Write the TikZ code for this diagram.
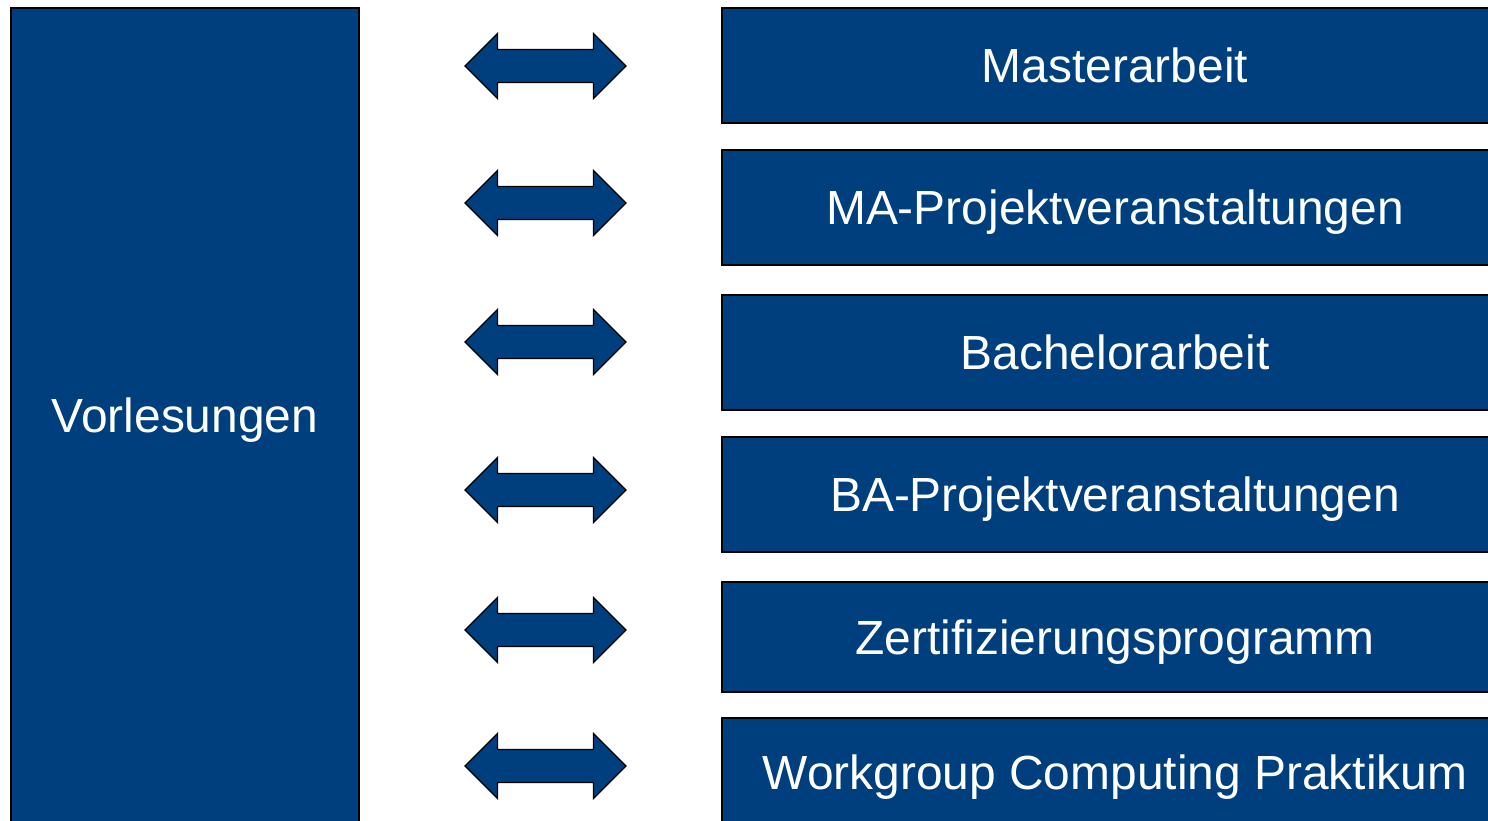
\documentclass[tikz,border=0pt]{standalone}
\usepackage{fontspec}
\setmainfont{Liberation Sans}
\definecolor{boxblue}{RGB}{0,63,125}
\begin{document}
\begin{tikzpicture}[x=1pt,y=-1pt,
  blk/.style={draw=black,line width=1.6pt,fill=boxblue,text=white,font=\fontsize{47.9}{57}\selectfont,inner sep=0pt,text height=34.6pt,text depth=0pt},
  dbl/.style={draw=black,line width=1.3pt,fill=boxblue,line join=miter}]
\useasboundingbox (0,0) rectangle (1488,820);
\clip (0,0) rectangle (1488,820);
\fill[white] (0,0) rectangle (1488,820);
\node[blk,minimum width=348pt,minimum height=815pt] (vor) at (185,415.5) {Vorlesungen};
\foreach \nm/\yt/\yb/\txt in {
  ma/8/123/Masterarbeit,
  map/150/265/MA-Projektveranstaltungen,
  ba/295/410/Bachelorarbeit,
  bap/437/552/BA-Projektveranstaltungen,
  zp/582/692/Zertifizierungsprogramm,
  wg/718/827/Workgroup Computing Praktikum}{
  \node[blk,minimum width=786pt,minimum height={(\yb-\yt)*1pt}] (\nm) at (1115,{(\yt+\yb)/2}) {\txt};
}
\foreach \c/\y in {a1/66,a2/203,a3/342,a4/490,a5/630,a6/766}{
  \coordinate (\c) at (545.5,\y);
  \draw[dbl] ([xshift=-80.5pt]\c) -- ++(32.5,-32.5) -- ++(0,16) -- ++(96,0) -- ++(0,-16)
    -- ++(32.5,32.5) -- ++(-32.5,32.5) -- ++(0,-16) -- ++(-96,0) -- ++(0,16) -- cycle;
}
\end{tikzpicture}
\end{document}
